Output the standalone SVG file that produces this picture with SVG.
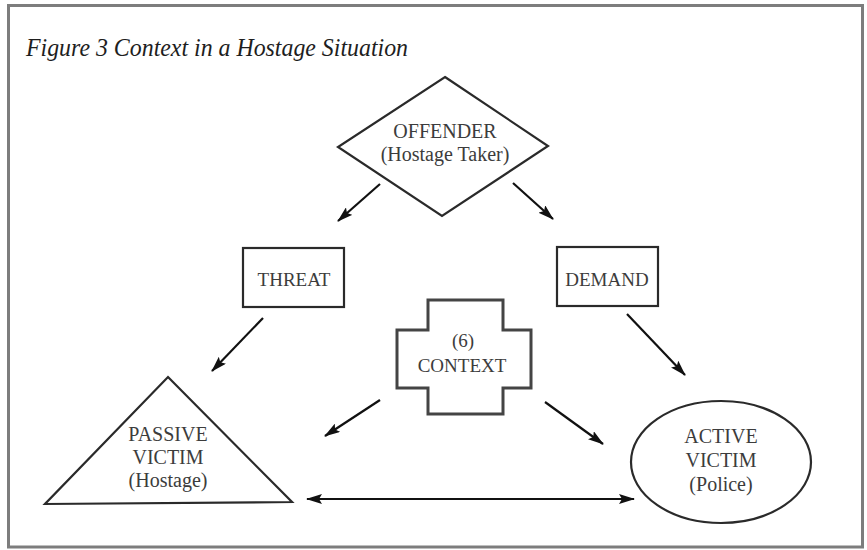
<svg xmlns="http://www.w3.org/2000/svg" width="867" height="550" viewBox="0 0 867 550">
<defs>
<style>
.frame{fill:#fff;stroke:#7d7d7d;stroke-width:3}
.shape{fill:#fff;stroke:#2a2a2a;stroke-width:2.2}
.cross{fill:#fff;stroke:#444;stroke-width:3}
.lbl{font-family:"Liberation Serif","Times New Roman",serif;font-size:20px;fill:#3c3c3c;text-anchor:middle}
.title{font-family:"Liberation Serif","Times New Roman",serif;font-size:25px;font-style:italic;fill:#1e1e1e}
.conn{stroke:#111;stroke-width:2.2;fill:none;marker-end:url(#ah)}
</style>
<marker id="ah" viewBox="0 0 16 10" refX="15" refY="5" markerWidth="16" markerHeight="10" markerUnits="userSpaceOnUse" orient="auto-start-reverse">
<path d="M0,0 L16,5 L0,10 L3,5 Z" fill="#111"/>
</marker>
</defs>
<rect x="0" y="0" width="867" height="550" fill="#fff"/>
<rect class="frame" x="8.5" y="5.5" width="854" height="541.5"/>
<text class="title" x="26" y="56" textLength="382" lengthAdjust="spacingAndGlyphs">Figure 3 Context in a Hostage Situation</text>
<g id="connectors">
<line class="conn" x1="380" y1="184" x2="338" y2="221"/>
<line class="conn" x1="513" y1="183" x2="553" y2="219"/>
<line class="conn" x1="263" y1="318" x2="212" y2="371"/>
<line class="conn" x1="627" y1="314" x2="685" y2="375"/>
<line class="conn" x1="380" y1="400" x2="325" y2="436"/>
<line class="conn" x1="545" y1="402" x2="603" y2="444"/>
<line class="conn" x1="307" y1="499" x2="634" y2="499" style="marker-start:url(#ah)"/>
</g>
<g id="offender">
<polygon class="shape" points="445,77 548,146 442,216 338,147"/>
<text class="lbl" x="445" y="138">OFFENDER</text>
<text class="lbl" x="445" y="161">(Hostage Taker)</text>
</g>
<g id="threat">
<rect class="shape" x="243" y="248" width="101" height="59"/>
<text class="lbl" x="294" y="286" style="font-size:19px">THREAT</text>
</g>
<g id="demand">
<rect class="shape" x="557" y="247" width="101" height="59"/>
<text class="lbl" x="607" y="286" style="font-size:19px">DEMAND</text>
</g>
<g id="context">
<polygon class="cross" points="428,300 503,300 503,330 531,330 531,388 503,388 503,414 428,414 428,388 397,388 397,330 428,330"/>
<text class="lbl" x="463" y="347" style="font-size:19px">(6)</text>
<text class="lbl" x="462" y="372" style="font-size:19px">CONTEXT</text>
</g>
<g id="passive-victim">
<polygon class="shape" points="168,377 292,502 45,504"/>
<text class="lbl" x="168" y="441">PASSIVE</text>
<text class="lbl" x="168" y="464">VICTIM</text>
<text class="lbl" x="168" y="487">(Hostage)</text>
</g>
<g id="active-victim">
<ellipse class="shape" cx="721" cy="462" rx="90" ry="61"/>
<text class="lbl" x="721" y="443">ACTIVE</text>
<text class="lbl" x="721" y="467">VICTIM</text>
<text class="lbl" x="721" y="491">(Police)</text>
</g>
</svg>
